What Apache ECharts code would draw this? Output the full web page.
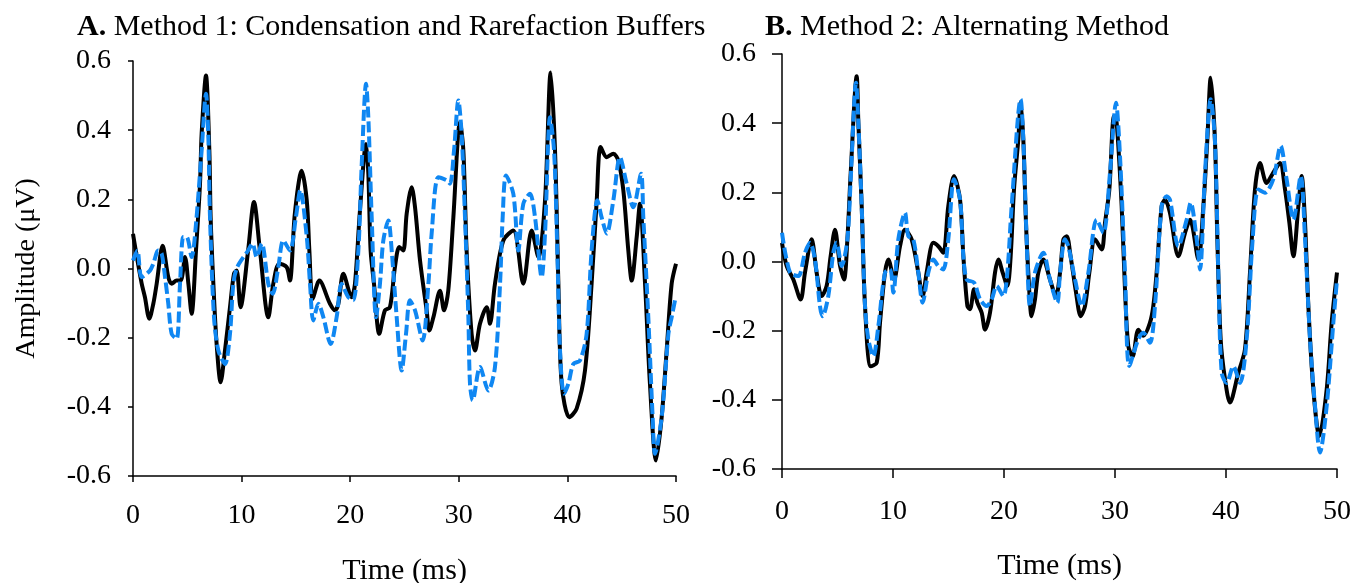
<!DOCTYPE html>
<html>
<head>
<meta charset="utf-8">
<script src="https://cdn.jsdelivr.net/npm/echarts@6/dist/echarts.min.js"></script>
<style>
  html, body { margin: 0; padding: 0; background: #ffffff; }
  #chart { width: 1355px; height: 583px; }
</style>
</head>
<body>
<div id="chart"></div>
<script>
// ---- Data (time in ms, amplitude in µV) ----
const panelTitles = ['A.', 'B.'];
const panelSubtitles = [' Method 1: Condensation and Rarefaction Buffers', ' Method 2: Alternating Method'];
const xTicks = [0, 10, 20, 30, 40, 50];
const yTicks = [-0.6, -0.4, -0.2, 0.0, 0.2, 0.4, 0.6];

// Panel A, black (solid)
const panelA_black = [
  [0,0.10],[0.2,0.062],[0.8,-0.044],[1.1,-0.083],[1.5,-0.145],[1.87,-0.102],[2.18,-0.044],[2.73,0.066],
  [3.25,-0.025],[3.56,-0.044],[4.02,-0.035],[4.39,-0.035],[4.79,0.033],[5.1,-0.044],[5.4,-0.131],
  [5.8,0.052],[6.17,0.245],[6.32,0.389],[6.72,0.558],[7.03,0.341],[7.15,0.148],[7.4,-0.044],[7.7,-0.218],
  [8.07,-0.329],[8.47,-0.237],[8.93,-0.112],[9.3,-0.015],[9.55,-0.006],[9.9,-0.112],[10.6,0.052],
  [11.14,0.192],[11.69,0.052],[12.46,-0.141],[12.92,-0.044],[13.47,0.014],[14.15,0.004],[14.45,-0.035],
  [14.9,0.158],[15.53,0.283],[16.0,0.197],[16.24,0.052],[16.55,-0.088],[17.16,-0.035],[18.14,-0.102],
  [18.6,-0.121],[18.91,-0.102],[19.37,-0.015],[20.13,-0.083],[20.44,-0.044],[20.9,0.168],[21.46,0.36],
  [21.67,0.274],[21.88,0.052],[22.19,-0.044],[22.68,-0.189],[23.2,-0.121],[23.66,-0.112],[24.12,0.004],
  [24.52,0.062],[24.89,0.052],[25.2,0.158],[25.66,0.235],[25.97,0.177],[26.43,0.023],[27.04,-0.121],
  [27.29,-0.179],[27.66,-0.141],[28.27,-0.064],[28.64,-0.121],[29.03,-0.064],[29.5,0.148],[30.11,0.423],
  [30.42,0.341],[30.72,0.052],[31.18,-0.189],[31.49,-0.237],[31.95,-0.16],[32.57,-0.112],[32.87,-0.16],
  [33.33,-0.044],[34.1,0.081],[35.02,0.11],[35.94,-0.044],[36.71,0.11],[37.33,0.033],[37.94,0.197],
  [38.46,0.567],[38.86,0.341],[39.17,-0.044],[39.47,-0.333],[40.18,-0.43],[40.85,-0.405],[41.62,-0.295],
  [42.23,-0.044],[42.7,0.197],[43.06,0.351],[43.62,0.322],[44.23,0.332],[44.69,0.312],[45.15,0.226],
  [45.61,0.052],[45.92,-0.035],[46.38,0.091],[46.68,0.187],[47.15,-0.044],[47.6,-0.333],[48.16,-0.555],
  [48.68,-0.43],[49.14,-0.237],[49.6,-0.044],[50.0,0.014]
];

// Panel A, blue (dashed)
const panelA_blue = [
  [0,0.023],[0.4,0.052],[0.8,-0.025],[1.56,-0.006],[1.87,0.014],[2.33,0.052],[2.64,0.043],[2.95,-0.025],
  [3.25,-0.102],[3.56,-0.189],[4.02,-0.203],[4.33,-0.044],[4.63,0.091],[4.94,0.091],[5.4,0.033],
  [5.8,0.129],[6.32,0.341],[6.72,0.505],[6.93,0.389],[7.09,0.148],[7.46,-0.141],[7.86,-0.237],
  [8.47,-0.276],[8.93,-0.189],[9.24,-0.044],[9.6,0.004],[10.6,0.052],[11.0,0.072],[11.39,0.033],
  [11.85,0.072],[12.46,-0.044],[12.86,-0.073],[13.38,0.004],[13.84,0.081],[14.45,0.052],[15.0,0.148],
  [15.4,0.226],[16.0,0.091],[16.3,-0.044],[16.6,-0.15],[17.07,-0.102],[17.53,-0.141],[18.2,-0.218],
  [18.75,-0.141],[19.21,-0.044],[19.82,-0.083],[20.28,-0.092],[20.75,0.052],[21.05,0.293],[21.46,0.534],
  [21.67,0.437],[21.98,0.148],[22.38,-0.141],[22.74,-0.044],[23.05,0.081],[23.51,0.139],[23.82,0.052],
  [24.28,-0.141],[24.74,-0.295],[25.14,-0.189],[25.5,-0.092],[25.97,-0.121],[26.67,-0.208],[27.2,-0.044],
  [27.5,0.101],[28.12,0.264],[28.88,0.255],[29.19,0.245],[29.56,0.341],[29.96,0.486],[30.26,0.389],
  [30.57,0.148],[30.88,-0.141],[31.03,-0.333],[31.28,-0.381],[31.95,-0.285],[32.72,-0.353],[33.33,-0.285],
  [33.8,-0.044],[34.04,0.148],[34.35,0.269],[35.02,0.216],[35.48,0.052],[35.94,0.187],[36.55,0.216],
  [37.02,0.148],[37.63,-0.025],[37.94,0.101],[38.4,0.437],[38.77,0.341],[39.07,0.052],[39.32,-0.237],
  [39.69,-0.362],[40.09,-0.333],[40.55,-0.276],[41.16,-0.266],[41.77,-0.189],[42.23,0.052],[42.76,0.197],
  [43.15,0.148],[43.62,0.101],[44.23,0.197],[44.84,0.322],[45.46,0.245],[46.07,0.177],[46.78,0.274],
  [46.99,0.148],[47.45,-0.141],[47.85,-0.43],[48.06,-0.536],[48.68,-0.43],[49.3,-0.189],[49.6,-0.141],
  [49.91,-0.092]
];

// Panel B, black (solid)
const panelB_black = [
  [0,0.054],[0.42,-0.013],[1.02,-0.052],[1.68,-0.11],[2.07,-0.032],[2.67,0.064],[3.12,-0.032],[3.57,-0.1],
  [4.02,-0.071],[4.38,0.015],[4.77,0.092],[5.23,-0.013],[5.59,-0.052],[5.89,0.064],[6.19,0.257],
  [6.73,0.536],[6.88,0.401],[7.18,0.16],[7.48,-0.129],[7.99,-0.303],[8.53,-0.293],[8.83,-0.177],
  [9.28,-0.032],[9.58,0.006],[10.09,-0.052],[10.63,0.044],[11.08,0.092],[11.68,0.064],[12.28,-0.032],
  [12.67,-0.1],[13.03,-0.032],[13.63,0.054],[14.08,0.044],[14.53,0.025],[14.98,0.16],[15.5,0.247],
  [16.04,0.179],[16.34,0.015],[16.7,-0.129],[16.94,-0.138],[17.3,-0.08],[17.6,-0.119],[17.99,-0.148],
  [18.29,-0.197],[18.74,-0.148],[19.19,-0.032],[19.49,0.006],[19.88,-0.032],[20.3,-0.071],[20.6,0.015],
  [20.9,0.208],[21.29,0.353],[21.5,0.459],[21.74,0.353],[21.98,0.112],[22.19,-0.032],[22.49,-0.158],
  [22.79,-0.11],[23.09,-0.032],[23.54,0.006],[24.14,-0.052],[24.68,-0.1],[25.05,-0.032],[25.35,0.064],
  [25.65,0.073],[26.0,0.015],[26.49,-0.09],[26.91,-0.158],[27.3,-0.129],[27.69,-0.032],[28.2,0.064],
  [28.8,0.035],[29.1,0.112],[29.49,0.208],[29.91,0.42],[30.15,0.401],[30.6,0.16],[30.9,-0.081],
  [31.2,-0.245],[31.59,-0.274],[32.1,-0.197],[32.55,-0.215],[33.15,-0.177],[33.45,-0.129],[33.75,-0.032],
  [34.2,0.16],[34.5,0.179],[34.95,0.141],[35.71,0.015],[36.31,0.083],[36.76,0.121],[37.51,0.006],
  [37.96,0.16],[38.32,0.353],[38.62,0.531],[39.0,0.353],[39.22,0.064],[39.52,-0.225],[39.91,-0.34],
  [40.36,-0.408],[41.11,-0.322],[41.71,-0.254],[42.16,-0.032],[42.61,0.208],[43.06,0.285],[43.66,0.227],
  [44.26,0.257],[44.86,0.285],[45.32,0.208],[45.71,0.112],[46.07,0.015],[46.52,0.16],[46.82,0.247],
  [47.12,0.112],[47.42,-0.129],[47.87,-0.37],[48.41,-0.505],[49.07,-0.37],[49.52,-0.177],[50.0,-0.032]
];

// Panel B, blue (dashed)
const panelB_blue = [
  [0,0.083],[0.72,-0.032],[1.47,-0.042],[2.07,0.025],[2.52,0.054],[2.97,0.006],[3.42,-0.129],[3.66,-0.158],
  [4.17,-0.1],[4.62,0.025],[4.92,0.054],[5.38,-0.013],[5.89,0.064],[6.19,0.238],[6.67,0.517],[6.88,0.401],
  [7.18,0.16],[7.48,-0.129],[7.78,-0.225],[8.23,-0.274],[8.68,-0.187],[9.28,-0.032],[9.73,-0.023],
  [10.03,-0.09],[10.48,0.064],[11.08,0.141],[11.38,0.073],[11.83,0.064],[12.28,-0.032],[12.67,-0.119],
  [13.18,-0.032],[13.63,0.006],[14.08,-0.013],[14.53,-0.023],[14.98,0.064],[15.5,0.238],[16.04,0.179],
  [16.34,0.015],[16.64,-0.052],[17.3,-0.061],[17.84,-0.109],[18.44,-0.129],[18.89,-0.109],[19.34,-0.071],
  [19.94,-0.1],[20.3,-0.032],[20.69,0.16],[21.5,0.469],[21.74,0.353],[22.04,0.064],[22.34,-0.129],
  [22.79,-0.032],[23.54,0.025],[24.14,-0.052],[24.8,-0.119],[25.05,-0.032],[25.5,0.064],[25.8,0.044],
  [26.4,-0.052],[27.0,-0.129],[27.6,-0.032],[28.35,0.121],[28.95,0.083],[29.55,0.257],[30.09,0.459],
  [30.45,0.305],[30.9,-0.032],[31.29,-0.302],[32.1,-0.225],[32.55,-0.206],[33.15,-0.235],[33.6,-0.129],
  [34.2,0.16],[34.65,0.189],[34.95,0.179],[35.71,0.044],[36.46,0.121],[36.82,0.17],[37.36,0.064],
  [37.66,-0.023],[38.11,0.257],[38.62,0.469],[39.0,0.353],[39.31,-0.032],[39.61,-0.322],[40.06,-0.351],
  [40.66,-0.303],[41.26,-0.351],[41.86,-0.225],[42.4,0.064],[42.91,0.208],[43.51,0.199],[44.26,0.238],
  [44.92,0.334],[45.46,0.238],[46.07,0.121],[46.73,0.247],[47.12,0.064],[47.57,-0.225],[48.02,-0.418],
  [48.47,-0.552],[49.07,-0.418],[49.67,-0.177],[50.0,-0.052]
];

// ---- Chart ----
const FONT = "'Liberation Serif', 'Times New Roman', serif";
const BLACK = '#000000';
const BLUE = '#0f87f2';

const chart = echarts.init(document.getElementById('chart'), null, { renderer: 'canvas' });

function yAxisCfg(gridIndex, margin, tickLen, withName) {
  const cfg = {
    type: 'value', gridIndex: gridIndex,
    min: yTicks[0], max: yTicks[yTicks.length - 1], interval: 0.2,
    axisLine: { show: true, lineStyle: { color: '#000', width: 1.5 } },
    axisTick: { show: true, inside: false, length: tickLen, lineStyle: { color: '#000', width: 1.5 } },
    splitLine: { show: false },
    axisLabel: { color: '#000', fontFamily: FONT, fontSize: 28, margin: margin,
      formatter: function (v) { return (Math.abs(v) < 1e-9 ? 0 : v).toFixed(1); } }
  };
  if (withName) {
    cfg.name = 'Amplitude (\u03bcV)';
    cfg.nameLocation = 'middle';
    cfg.nameGap = 92;
    cfg.nameTextStyle = { color: '#000', fontFamily: FONT, fontSize: 28 };
  }
  return cfg;
}

function xAxisCfg(gridIndex, margin, tickLen, nameGap) {
  return {
    type: 'value', gridIndex: gridIndex,
    min: xTicks[0], max: xTicks[xTicks.length - 1], interval: 10,
    axisLine: { show: true, onZero: false, lineStyle: { color: '#000', width: 1.5 } },
    axisTick: { show: true, inside: false, length: tickLen, lineStyle: { color: '#000', width: 1.5 } },
    splitLine: { show: false },
    axisLabel: { color: '#000', fontFamily: FONT, fontSize: 28, margin: margin },
    name: 'Time (ms)', nameLocation: 'middle', nameGap: nameGap,
    nameTextStyle: { color: '#000', fontFamily: FONT, fontSize: 30 }
  };
}

function lineSeries(data, idx, color, dashed) {
  return {
    type: 'line', xAxisIndex: idx, yAxisIndex: idx, data: data,
    showSymbol: false, symbol: 'none', smooth: 0.3, animation: false,
    lineStyle: { color: color, width: 4, type: dashed ? [11, 4] : 'solid', cap: 'butt', join: 'round' },
    z: dashed ? 3 : 2
  };
}

function titleCfg(i, left) {
  return {
    text: '{b|' + panelTitles[i] + '}{n|' + panelSubtitles[i] + '}', left: left, top: 7,
    textStyle: {
      fontWeight: 'normal',
      rich: {
        b: { fontFamily: FONT, fontSize: 30, fontWeight: 'bold', color: '#000' },
        n: { fontFamily: FONT, fontSize: 30, fontWeight: 'normal', color: '#000' }
      }
    }
  };
}

chart.setOption({
  backgroundColor: '#ffffff',
  animation: false,
  title: [ titleCfg(0, 72), titleCfg(1, 760) ],
  grid: [
    { left: 133, top: 61, width: 543, height: 415, containLabel: false, outerBoundsMode: 'none' },
    { left: 782, top: 54, width: 555, height: 415, containLabel: false, outerBoundsMode: 'none' }
  ],
  xAxis: [ xAxisCfg(0, 26, 6, 80), xAxisCfg(1, 29, 9, 82) ],
  yAxis: [ yAxisCfg(0, 22, 5, true), yAxisCfg(1, 26, 10, false) ],
  series: [
    lineSeries(panelA_black, 0, BLACK, false),
    lineSeries(panelA_blue, 0, BLUE, true),
    lineSeries(panelB_black, 1, BLACK, false),
    lineSeries(panelB_blue, 1, BLUE, true)
  ]
});
</script>
</body>
</html>
